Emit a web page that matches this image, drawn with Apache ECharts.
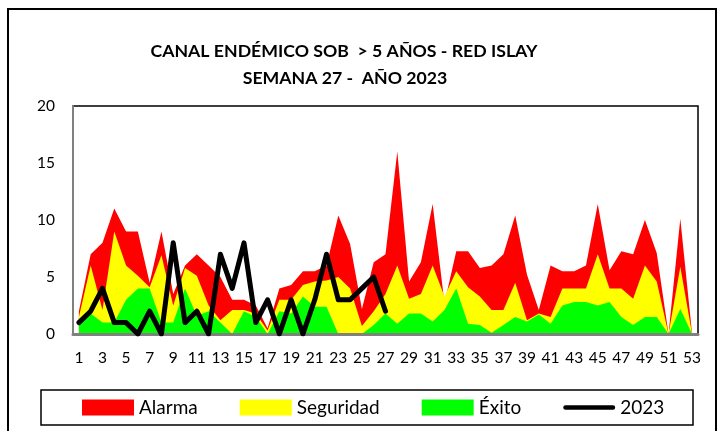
<!DOCTYPE html>
<html>
<head>
<meta charset="utf-8">
<script src="https://cdn.jsdelivr.net/npm/echarts@6/dist/echarts.min.js"></script>
<style>
html,body{margin:0;padding:0;background:#fff;}
#chart{width:718px;height:431px;}
</style>
</head>
<body>
<div id="chart"></div>
<script>
const weeks = Array.from({length: 53}, (_, i) => String(i + 1));
const alarma = [2, 7, 8, 11, 9, 9, 4.5, 9, 3.5, 6, 7, 6, 5, 3, 3, 2.5, 0.5, 4, 4.3, 5.5, 5.5, 6, 10.4, 7.9, 2.2, 6.3, 7, 16, 4.6, 6.3, 11.4, 2.7, 7.25, 7.25, 5.8, 6, 7, 10.4, 5.2, 2.1, 6, 5.5, 5.5, 6, 11.4, 5.6, 7.25, 7, 10, 7.1, 0, 10.1, 0];
const seguridad = [1.5, 6, 2.1, 9, 6, 5.1, 4.1, 6.9, 2.5, 5.8, 5.1, 2.5, 1.2, 2.1, 2.1, 1.8, 0.3, 3, 3, 4.3, 4.6, 4.7, 5, 4, 0.7, 2, 3.5, 6, 3.1, 3.5, 6, 3.3, 5.5, 4.1, 3.3, 2.1, 2.1, 4.5, 1.2, 1.8, 1.5, 4, 4, 4, 7, 4, 4, 3.1, 6, 4.6, 0, 5.9, 0];
const exito = [1, 1.8, 1, 1, 3, 4, 4, 1, 1, 4, 1.6, 2, 1, 0, 2, 1.5, 0, 2, 1.8, 3.3, 2.4, 2.4, 0, 0, 0, 0.8, 1.8, 0.9, 1.8, 1.8, 1.1, 2.1, 4, 0.9, 0.8, 0.1, 0.8, 1.5, 1.1, 1.7, 0.9, 2.5, 2.8, 2.8, 2.5, 2.8, 1.5, 0.8, 1.5, 1.5, 0, 2.2, 0];
const casos2023 = [1, 2, 4, 1, 1, 0, 2, 0, 8, 1, 2, 0, 7, 4, 8, 1, 3, 0, 3, 0, 3, 7, 3, 3, 4, 5, 2];
const yTicks = [0, 5, 10, 15, 20];
const titleLines = ['CANAL ENDÉMICO SOB  > 5 AÑOS - RED ISLAY', 'SEMANA 27 -  AÑO 2023'];

const FONT = 'Lato, "Open Sans", sans-serif';
const chart = echarts.init(document.getElementById('chart'), null, {renderer: 'canvas'});

function areaSeries(name, data, color) {
  return {
    name: name, type: 'line', data: data, symbol: 'none', smooth: false,
    color: color, itemStyle: {color: color},
    lineStyle: {width: 0, color: color},
    areaStyle: {color: color, opacity: 1},
    emphasis: {disabled: true}
  };
}

chart.setOption({
  animation: false,
  backgroundColor: '#fff',
  graphic: [
    {type: 'rect', shape: {x: 8, y: 9, width: 708, height: 440}, style: {fill: 'none', stroke: '#000', lineWidth: 2}, z: 0},
    {type: 'rect', shape: {x: 41, y: 390, width: 652, height: 35}, style: {fill: 'none', stroke: '#000', lineWidth: 1.5}, z: 0},
    {type: 'text', x: 344, y: 51, style: {text: titleLines[0], fill: '#000', font: 'bold 17.7px ' + FONT, textAlign: 'center', textVerticalAlign: 'middle'}},
    {type: 'text', x: 345, y: 78, style: {text: titleLines[1], fill: '#000', font: 'bold 17.7px ' + FONT, textAlign: 'center', textVerticalAlign: 'middle'}}
  ],
  grid: {left: 73, right: 20, top: 106, bottom: 97, show: true, borderColor: '#000', borderWidth: 1.5, backgroundColor: 'transparent'},
  legend: {
    left: 82, top: 398, padding: 0, itemWidth: 52, itemHeight: 16, itemGap: 42,
    textStyle: {fontFamily: FONT, fontSize: 19, color: '#000'},
    selectedMode: false,
    data: [
      {name: 'Alarma', icon: 'rect'},
      {name: 'Seguridad', icon: 'rect'},
      {name: 'Éxito', icon: 'rect'},
      {name: '2023', icon: 'path://M2.5,0 L53.5,0 A2.5,2.5 0 0 1 53.5,5 L2.5,5 A2.5,2.5 0 0 1 2.5,0 Z'}
    ]
  },
  xAxis: {
    type: 'category', data: weeks, boundaryGap: true, z: 3,
    axisLine: {show: true, lineStyle: {color: '#808080', width: 3}},
    axisTick: {show: false},
    axisLabel: {interval: 1, color: '#000', fontFamily: FONT, fontSize: 15.5, margin: 16}
  },
  yAxis: {
    type: 'value', min: yTicks[0], max: yTicks[yTicks.length - 1], interval: yTicks[1] - yTicks[0], z: 3,
    axisLine: {show: true, lineStyle: {color: '#808080', width: 2}},
    axisTick: {show: false},
    splitLine: {show: false},
    axisLabel: {color: '#000', fontFamily: FONT, fontSize: 15.5, margin: 18}
  },
  series: [
    areaSeries('Alarma', alarma, '#FF0000'),
    areaSeries('Seguridad', seguridad, '#FFFF00'),
    areaSeries('Éxito', exito, '#00FF00'),
    {
      name: '2023', type: 'line', data: casos2023, symbol: 'none', z: 4,
      color: '#000', itemStyle: {color: '#000'},
      lineStyle: {color: '#000', width: 5, join: 'round', cap: 'round'},
      emphasis: {disabled: true}
    }
  ]
});
</script>
</body>
</html>
